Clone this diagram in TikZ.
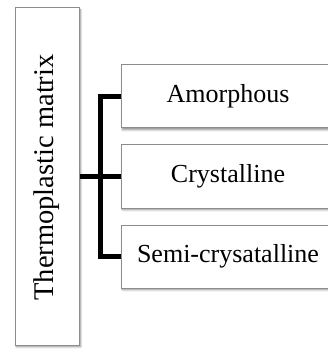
\documentclass[tikz,border=0pt]{standalone}
\usepackage{fontspec}
\setmainfont{Liberation Serif}
\usetikzlibrary{shadows.blur}
\begin{document}
\begin{tikzpicture}[x=1pt,y=-1pt,
  box/.style={draw=black!45, line width=1pt, fill=white,
    blur shadow={shadow xshift=1.5pt, shadow yshift=-1.8pt,
      shadow blur steps=6, shadow blur radius=2pt, shadow opacity=45},
    minimum height=63pt, inner sep=0pt, font=\fontsize{26}{30}\selectfont},
  link/.style={line width=5pt, line join=miter}]
\useasboundingbox (0,0) rectangle (327,352);
% main category
\node[box, minimum width=64pt, minimum height=337pt] (main) at (47,176.5) {};
\node[rotate=90, font=\fontsize{28.5}{30}\selectfont] (mainlabel) at (47,177.5) {Thermoplastic matrix};
% sub-categories
\node[box, minimum width=214pt] (amor) at (228,96.5) {Amorphous};
\node[box, minimum width=214pt] (cryst) at (228,176.5) {Crystalline};
\node[box, minimum width=214pt] (semi) at (228,256.5) {Semi-crysatalline};
% bracket connector
\coordinate (fork) at (100,0);
\draw[link] (main.east |- cryst.west) -- (cryst.west);
\draw[link] (amor.west) -- (fork |- amor.west) -- (fork |- semi.west) -- (semi.west);
\end{tikzpicture}
\end{document}
